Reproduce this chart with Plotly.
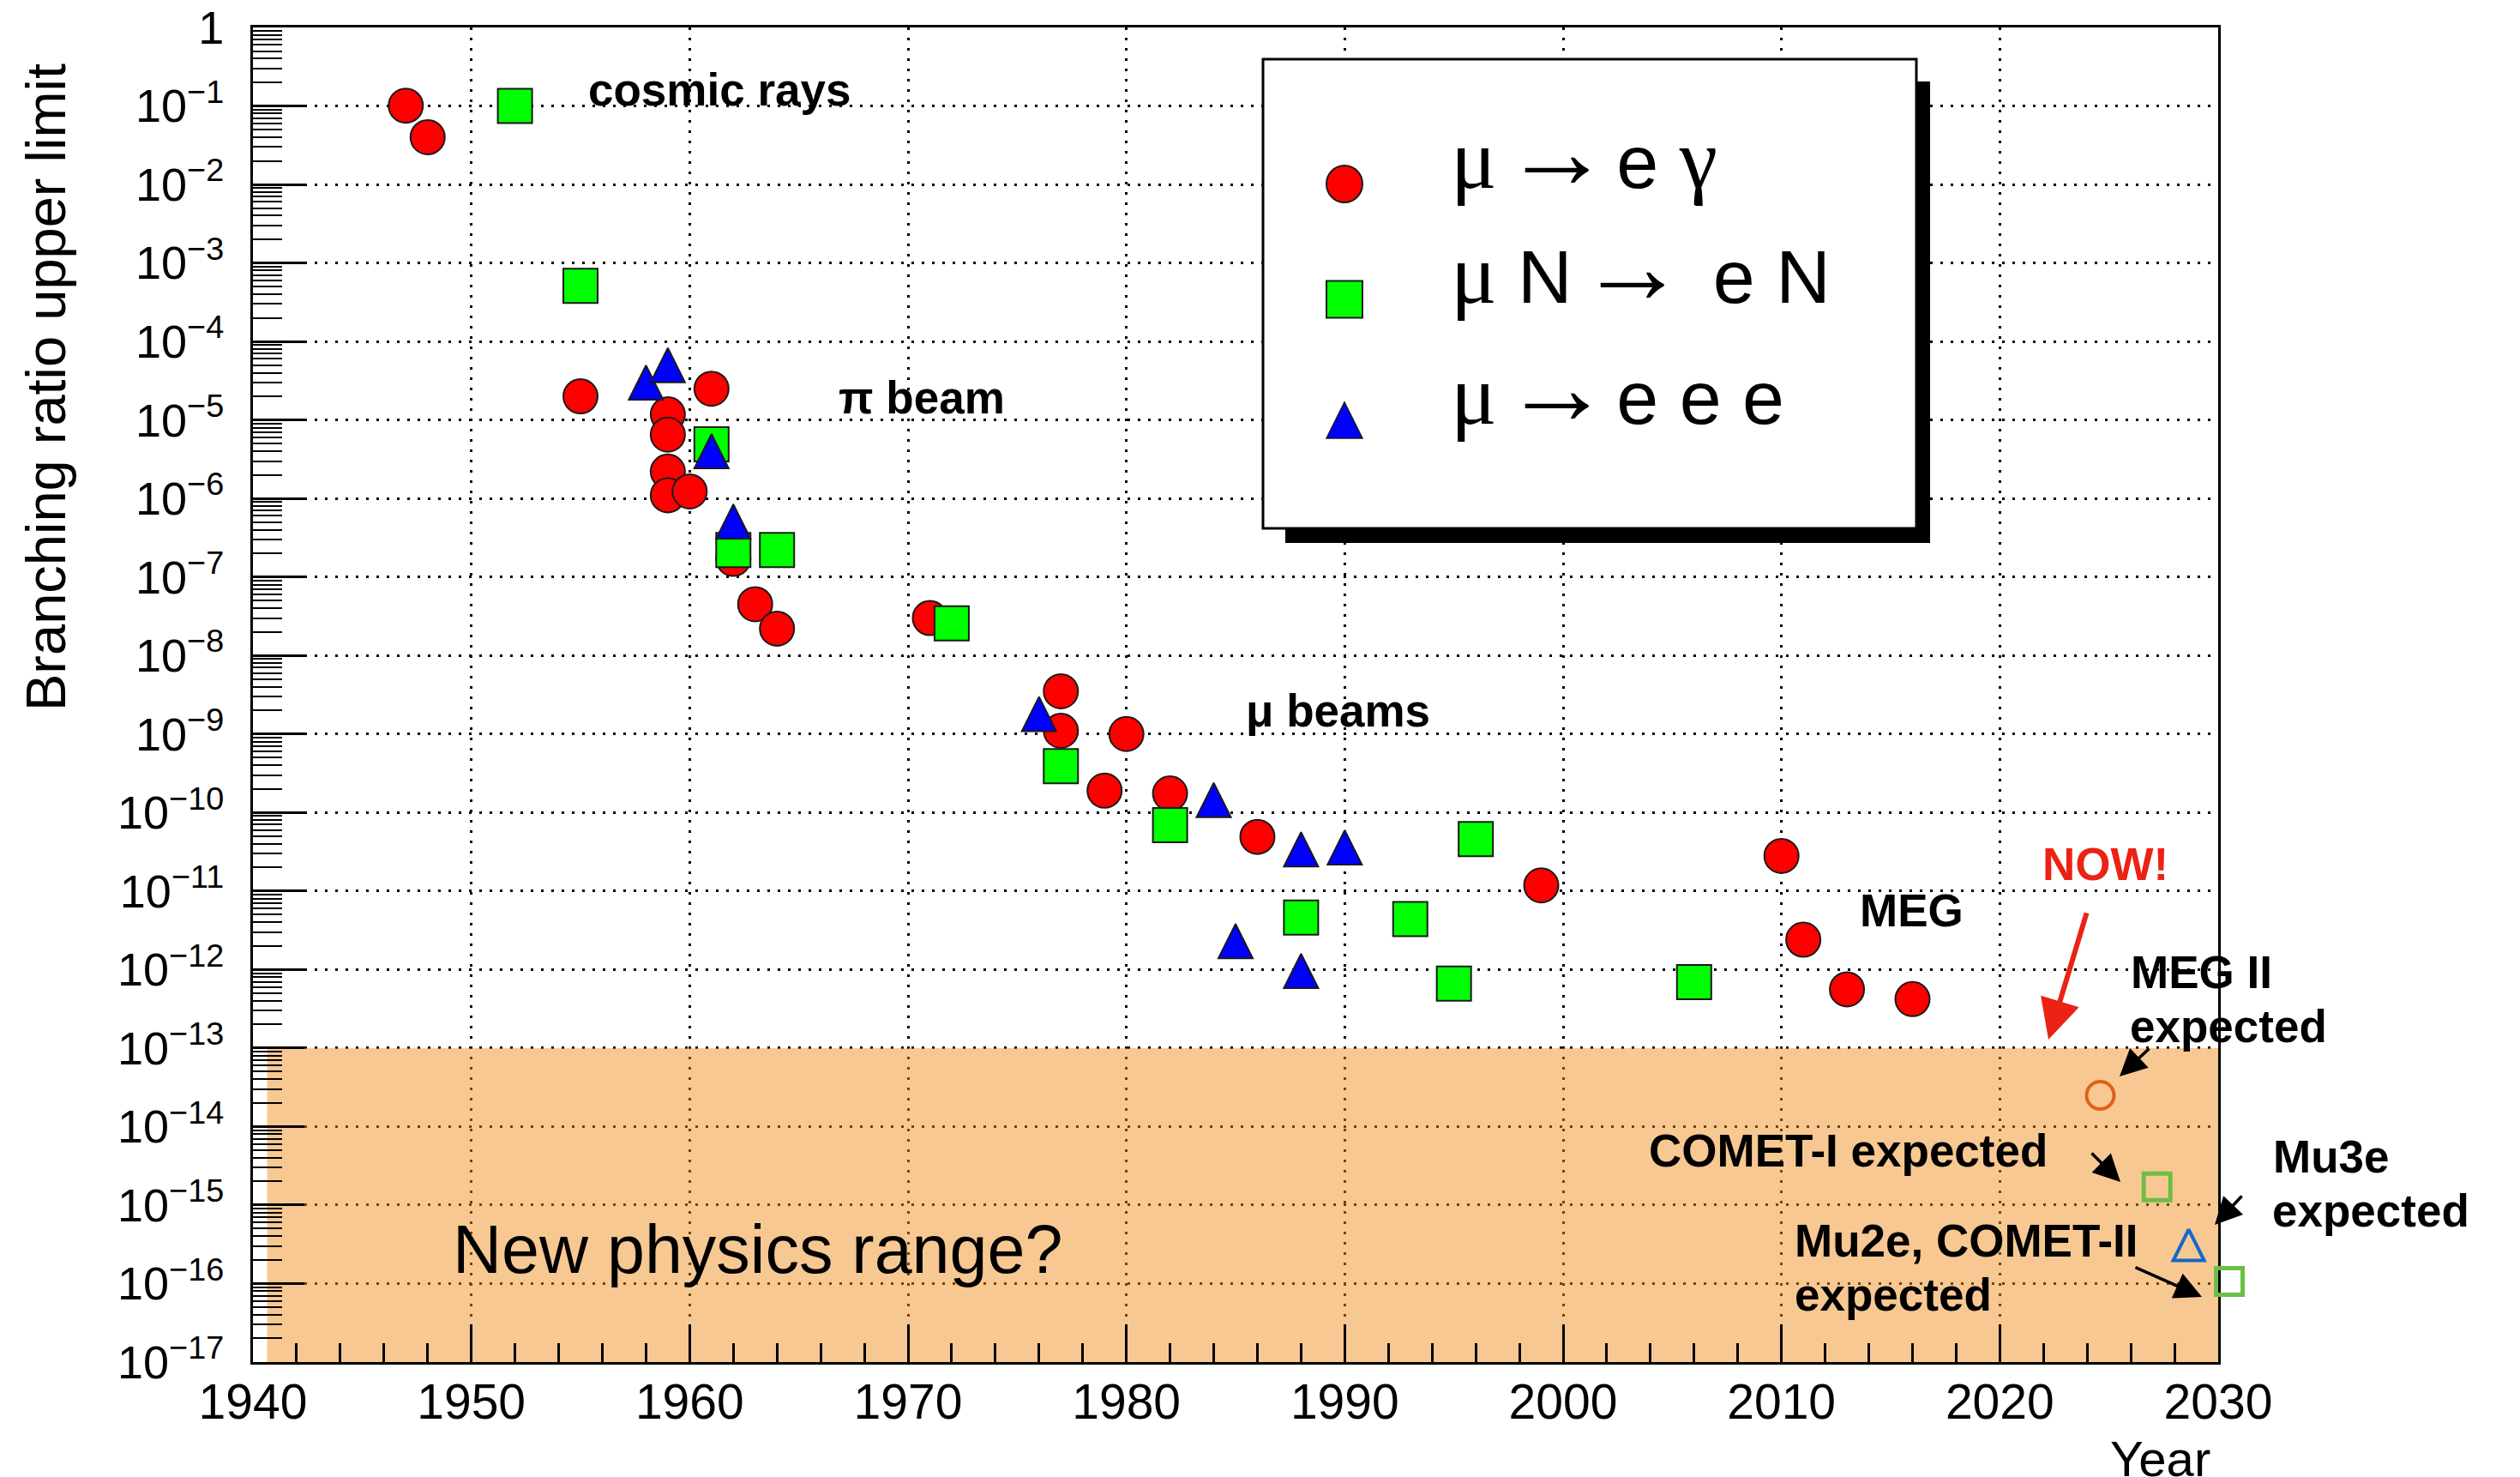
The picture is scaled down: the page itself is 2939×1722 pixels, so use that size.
import math
import plotly.graph_objects as go

# ---------------- data ----------------
meg_years = [1947, 1948, 1955, 1959, 1959, 1959, 1959, 1960, 1961, 1962, 1963, 1964,
             1971, 1977, 1977, 1979, 1980, 1982, 1986, 1999, 2010, 2011, 2013, 2016]
meg_limits = [1.01e-1, 4.0e-2, 2.0e-5, 1.18e-5, 6.5e-6, 2.2e-6, 1.1e-6, 1.23e-6, 2.5e-5,
              1.7e-7, 4.5e-8, 2.2e-8, 3.0e-8, 3.5e-9, 1.1e-9, 1.9e-10, 1.0e-9, 1.75e-10,
              4.9e-11, 1.18e-11, 2.8e-11, 2.4e-12, 5.6e-13, 4.2e-13]

conv_years = [1952, 1955, 1961, 1962, 1964, 1972, 1977, 1982, 1988, 1993, 1995, 1996, 2006]
conv_limits = [1.0e-1, 5.1e-4, 4.9e-6, 2.2e-7, 2.2e-7, 2.57e-8, 3.9e-10, 6.9e-11,
               4.6e-12, 4.4e-12, 6.6e-13, 4.6e-11, 6.9e-13]

eee_years = [1958, 1959, 1961, 1962, 1976, 1984, 1985, 1988, 1988, 1990]
eee_limits = [3.0e-5, 5.0e-5, 4.0e-6, 5.1e-7, 1.8e-9, 1.44e-10, 2.3e-12, 3.4e-11, 9.6e-13, 3.6e-11]

# expected sensitivities
megii_year, megii_limit = [2024.6], [2.5e-14]
cometi_year, cometi_limit = [2027.2], [1.7e-15]
mu3e_year, mu3e_limit = [2028.65], [3.1e-16]
mu2e_year, mu2e_limit = [2030.5], [1.07e-16]

new_physics_band = [1e-17, 1e-13]

x_range = [1940, 2030]
year_ticks = [1940, 1950, 1960, 1970, 1980, 1990, 2000, 2010, 2020, 2030]
decade_exponents = list(range(0, -18, -1))
y_tickvals = [10.0 ** e for e in decade_exponents]
y_ticktext = ["1"] + ["10<sup>\u2212%d</sup>" % (-e) for e in decade_exponents[1:]]
y_minor_vals = [m * 10.0 ** e for e in range(-17, 0) for m in range(2, 10)]

SERIF = '<span style="font-family:Liberation Serif;font-size:100px">%s</span>'
ARROW = '<span style="font-family:Liberation Serif;font-size:125px">\u2192</span>'
HAIR = "\u200a"
legend_labels = [
    (SERIF % "\u03bc") + HAIR + ARROW + HAIR + "e " + (SERIF % "\u03b3"),
    (SERIF % "\u03bc") + " N" + HAIR + ARROW + " " + HAIR + "e N",
    (SERIF % "\u03bc") + HAIR + ARROW + HAIR + "e e e",
]

# ---------------- geometry ----------------
W, H = 2939, 1722
L, R, T, B = 295, 2587, 32, 1588
FONT = "Liberation Sans, Arial, Helvetica, sans-serif"


def px(x):
    return (x - L) / (R - L)


def py(y):
    return (B - y) / (B - T)


fig = go.Figure()

edge = dict(color="#1a1a1a", width=2)
fig.add_trace(go.Scatter(x=meg_years, y=meg_limits, mode="markers", name="mu -> e gamma",
                         marker=dict(symbol="circle", size=40, color="#ff0000", line=edge)))
fig.add_trace(go.Scatter(x=conv_years, y=conv_limits, mode="markers", name="mu N -> e N",
                         marker=dict(symbol="square", size=40, color="#00ff00", line=edge)))
fig.add_trace(go.Scatter(x=eee_years, y=eee_limits, mode="markers", name="mu -> e e e",
                         marker=dict(symbol="arrow-down", angle=180, standoff=20, size=40,
                                     color="#0000ff", line=edge)))

fig.add_trace(go.Scatter(x=megii_year, y=megii_limit, mode="markers", cliponaxis=False,
                         marker=dict(symbol="circle-open", size=32, color="#e0601a",
                                     line=dict(color="#e0601a", width=4))))
fig.add_trace(go.Scatter(x=cometi_year, y=cometi_limit, mode="markers", cliponaxis=False,
                         marker=dict(symbol="square-open", size=31, color="#6cbf45",
                                     line=dict(color="#6cbf45", width=5))))
fig.add_trace(go.Scatter(x=mu3e_year, y=mu3e_limit, mode="markers", cliponaxis=False,
                         marker=dict(symbol="arrow-down-open", angle=180, standoff=18, size=36,
                                     color="#1468c8", line=dict(color="#1468c8", width=4))))

shapes = []
# new physics band
shapes.append(dict(type="rect", xref="x", yref="y", x0=1940.65, x1=x_range[1],
                   y0=new_physics_band[0], y1=new_physics_band[1],
                   fillcolor="rgba(240,140,30,0.48)", line=dict(width=0), layer="between"))
# legend shadow + box
shapes.append(dict(type="rect", xref="paper", yref="paper", x0=px(1499), x1=px(2251),
                   y0=py(633), y1=py(95), fillcolor="black", line=dict(width=0), layer="above"))
shapes.append(dict(type="rect", xref="paper", yref="paper", x0=px(1473), x1=px(2235),
                   y0=py(616), y1=py(69), fillcolor="white",
                   line=dict(color="black", width=3), layer="above"))
# legend symbols
sym_x = px(1568)
shapes.append(dict(type="circle", xref="paper", yref="paper", xsizemode="pixel", ysizemode="pixel",
                   xanchor=sym_x, yanchor=py(214.5), x0=-21, x1=21, y0=-21.5, y1=21.5,
                   fillcolor="#ff0000", line=edge, layer="above"))
shapes.append(dict(type="rect", xref="paper", yref="paper", xsizemode="pixel", ysizemode="pixel",
                   xanchor=sym_x, yanchor=py(349), x0=-21, x1=21, y0=-21.5, y1=21.5,
                   fillcolor="#00ff00", line=edge, layer="above"))
shapes.append(dict(type="path", xref="paper", yref="paper", xsizemode="pixel", ysizemode="pixel",
                   xanchor=sym_x, yanchor=py(490), path="M -21,-21 L 21,-21 L 0,21 Z",
                   fillcolor="#0000ff", line=dict(color="#1a1a1a", width=1.5), layer="above"))

ann = []
# Mu2e / COMET-II expected point lies just outside the frame (year > 2030): plotly hides
# out-of-range scatter points, so it is drawn as an unclipped open-square annotation,
# with y on the library's log axis and x on the axis' linear scale.
ann.append(dict(text=" ", xref="paper", yref="y",
                x=(mu2e_year[0] - x_range[0]) / (x_range[1] - x_range[0]),
                y=math.log10(mu2e_limit[0]), xanchor="center", yanchor="middle",
                width=26, height=26, borderpad=0, bordercolor="#6cbf45", borderwidth=5,
                showarrow=False, font=dict(size=10)))

# legend labels
for lab, base in zip(legend_labels, [214, 348, 489]):
    ann.append(dict(text=lab, xref="paper", yref="paper", x=px(1690), y=py(base - 37),
                    xanchor="left", yanchor="middle", showarrow=False,
                    font=dict(size=88, family=FONT, color="black")))

bold = dict(size=53, family=FONT, color="black", weight="bold")


def label(text, x, y, xanchor="center", font=bold):
    ann.append(dict(text=text, xref="paper", yref="paper", x=px(x), y=py(y),
                    xanchor=xanchor, yanchor="middle", showarrow=False, font=font))


label("cosmic rays", 839, 104)
label("\u03c0 beam", 1075, 463)
label("\u03bc beams", 1560, 828)
label("MEG", 2229, 1061)
label("NOW!", 2455, 1007, font=dict(size=53, family=FONT, color="#eb2214", weight="bold"))
label("MEG II", 2483, 1133, "left")
label("expected", 2482, 1196, "left")
label("COMET-I expected", 2390, 1341, "right")
label("Mu3e", 2649, 1348, "left")
label("expected", 2648, 1411, "left")
label("Mu2e, COMET-II", 2091, 1446, "left")
label("expected", 2091, 1509, "left")
label("New physics range?", 526, 1456, "left", font=dict(size=79, family=FONT, color="black"))

# axis titles
ann.append(dict(text="Branching ratio upper limit", xref="paper", yref="paper",
                x=px(53), y=py(452), xanchor="center", yanchor="middle", textangle=-90,
                showarrow=False, font=dict(size=65, family=FONT, color="black")))
ann.append(dict(text="Year", xref="paper", yref="paper", x=px(2519), y=py(1700),
                xanchor="center", yanchor="middle", showarrow=False,
                font=dict(size=58, family=FONT, color="black")))


def arrow(tip, tail, color="black", width=3.5, size=1.8):
    ann.append(dict(text="", xref="paper", yref="paper", x=px(tip[0]), y=py(tip[1]),
                    ax=tail[0] - tip[0], ay=tail[1] - tip[1], showarrow=True,
                    arrowhead=2, arrowsize=size, arrowwidth=width, arrowcolor=color,
                    standoff=0, startstandoff=0))


arrow((2389, 1212), (2434, 1063), color="#eb2214", width=6, size=1.55)
arrow((2472, 1255), (2508, 1221))
arrow((2473, 1378), (2438, 1343))
arrow((2583, 1428), (2616, 1393))
arrow((2568, 1512), (2489, 1477))

fig.update_layout(
    width=W, height=H,
    margin=dict(l=L, r=W - R, t=T, b=H - B, pad=0, autoexpand=False),
    paper_bgcolor="white", plot_bgcolor="white",
    showlegend=False,
    font=dict(family=FONT, color="black"),
    shapes=shapes, annotations=ann,
    xaxis=dict(
        range=x_range, tickmode="array", tickvals=year_ticks,
        ticktext=[str(v) for v in year_ticks], automargin=False,
        ticks="inside", ticklen=44, tickwidth=2.5, tickcolor="black",
        showline=True, linewidth=3, linecolor="black", mirror=True,
        showgrid=True, gridcolor="black", gridwidth=3, griddash="3px,9px",
        zeroline=False, tickfont=dict(size=57, family=FONT, color="black"),
        ticklabelstandoff=-5,
        minor=dict(tickmode="linear", tick0=1940, dtick=2, ticks="inside", ticklen=22,
                   tickwidth=2.5, tickcolor="black", showgrid=False),
    ),
    yaxis=dict(
        type="log", range=[-17, 0], tickmode="array", tickvals=y_tickvals, ticktext=y_ticktext,
        automargin=False,
        ticks="inside", ticklen=60, tickwidth=2.5, tickcolor="black",
        showline=True, linewidth=3, linecolor="black", mirror=True,
        showgrid=True, gridcolor="black", gridwidth=3, griddash="3px,9px",
        zeroline=False, tickfont=dict(size=54, family=FONT, color="black"),
        ticklabelstandoff=20,
        minor=dict(tickmode="array", tickvals=y_minor_vals, ticks="inside", ticklen=34,
                   tickwidth=2, tickcolor="black", showgrid=False),
    ),
)

fig.write_html("out.html")
